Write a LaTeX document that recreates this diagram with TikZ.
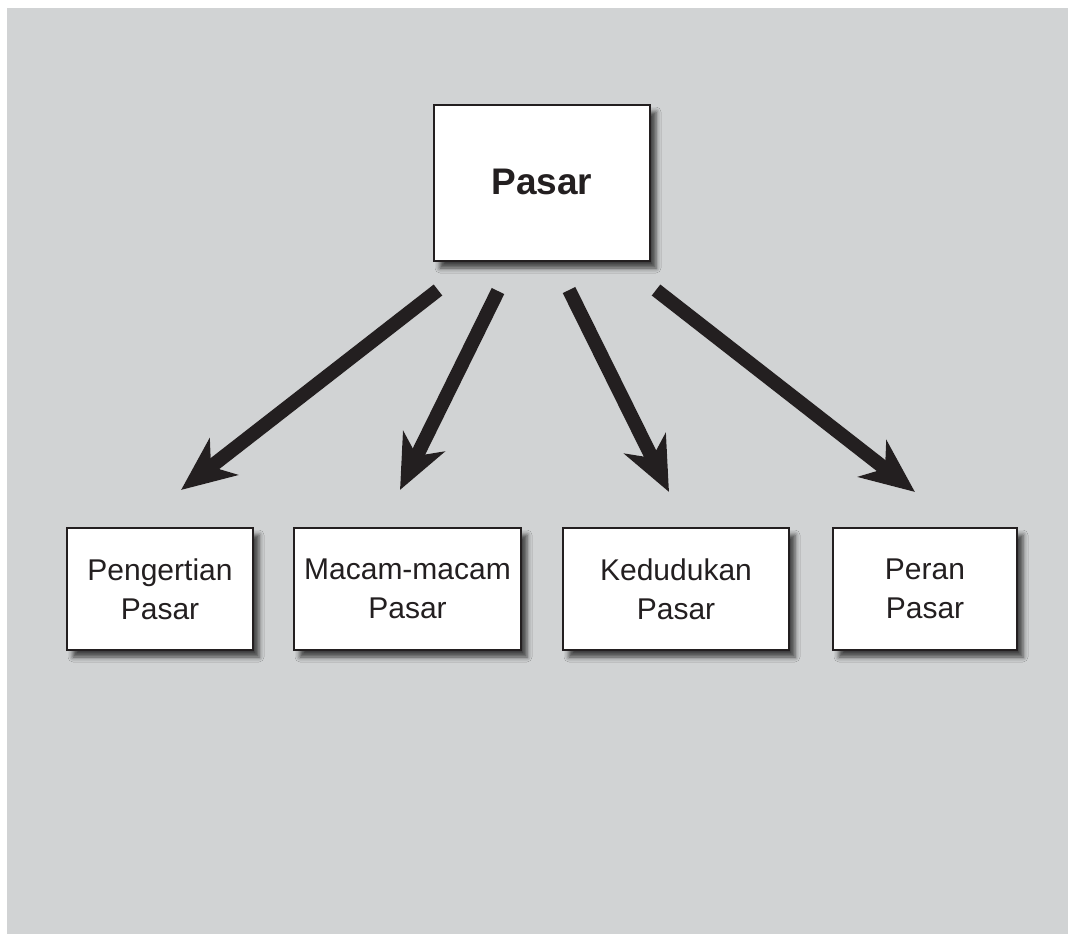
\documentclass[tikz,border=0pt]{standalone}
\usepackage{fontspec}
\setmainfont{Liberation Sans}
\usetikzlibrary{arrows.meta,shadows.blur}
\definecolor{bggray}{HTML}{D1D3D4}
\definecolor{ink}{HTML}{231F20}
\tikzset{
  box/.style={draw=ink, line width=2.6pt, fill=white, align=center, inner sep=0pt,
    text=ink,
    blur shadow={shadow xshift=6pt, shadow yshift=-7pt, shadow blur radius=5pt, shadow opacity=70}},
  smallbox/.style={box, minimum height=122pt, font=\fontsize{30}{39}\selectfont},
  bigarrow/.style={draw=ink, line width=14pt, -{Stealth[length=54pt, width=46pt, inset=16pt]}},
  whitearrow/.style={draw=white, line width=14pt, -{Stealth[length=54pt, width=46pt, inset=16pt]}, xshift=2pt, yshift=-2pt},
}
\begin{document}
\begin{tikzpicture}[x=1pt, y=-1pt]
\useasboundingbox (0,0) rectangle (1068,934);
\fill[bggray] (7,8) rectangle (1068,934);

\node[box, minimum width=216pt, minimum height=156pt, font=\fontsize{37}{40}\selectfont\bfseries] (pasar) at (542,183) {\raisebox{3pt}{Pasar}};

\node[smallbox, minimum width=186pt] (pengertian) at (160,589) {Pengertian\\Pasar};
\node[smallbox, minimum width=227pt] (macam) at (407.5,589) {Macam-macam\\Pasar};
\node[smallbox, minimum width=226pt] (kedudukan) at (676,589) {Kedudukan\\Pasar};
\node[smallbox, minimum width=184pt] (peran) at (925,589) {Peran\\Pasar};

\coordinate (s1) at (438,290);
\coordinate (t1) at (181,490);
\coordinate (s2) at (498,291);
\coordinate (t2) at (400,490);
\coordinate (s3) at (569,290);
\coordinate (t3) at (669,492);
\coordinate (s4) at (656,290);
\coordinate (t4) at (915,492);

\foreach \i in {1,2,3,4}{
  \draw[whitearrow] (s\i) -- (t\i);
}
\foreach \i in {1,2,3,4}{
  \draw[bigarrow] (s\i) -- (t\i);
}
\end{tikzpicture}
\end{document}
